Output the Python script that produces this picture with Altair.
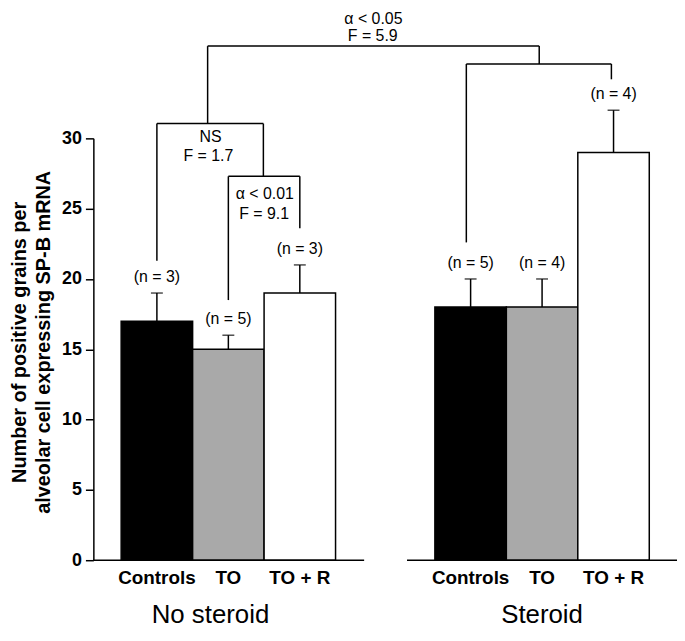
import altair as alt
import pandas as pd

# ---------------- data ----------------
categories = ["Controls", "TO", "TO + R"]
groups = ["No steroid", "Steroid"]
means_no_steroid = [17, 15, 19]
means_steroid = [18, 18, 29]
err_no_steroid = [2, 1, 2]
err_steroid = [2, 2, 3]
n_no_steroid = [3, 5, 3]
n_steroid = [5, 4, 4]
y_ticks = [0, 5, 10, 15, 20, 25, 30]
fills = ["#000000", "#a9a9a9", "#ffffff"]

# brackets: left x, right x, level, left-leg bottom, right-leg bottom
bracket_xl = [1.21, 4.83, 0.5, 1.5]
bracket_xr = [5.85, 6.86, 1.99, 2.5]
bracket_level = [36.56, 35.29, 31.05, 27.3]
bracket_lbot = [31.05, 22.6, 21.3, 18.5]
bracket_rbot = [35.29, 34.2, 27.3, 23.6]

annot_text = ["α < 0.05", "F = 5.9", "NS", "F = 1.7", "α < 0.01", "F = 9.1"]
annot_x = [3.53, 3.52, 1.25, 1.22, 2.01, 2.0]
annot_y = [38.5, 37.25, 30.06, 28.72, 26.04, 24.63]

group_label_x = [1.25, 5.89]

# ---------------- layout helpers ----------------
GROUP_START = [0.0, 4.39]
BAR_W = 1.0
X_DOMAIN = [-0.389, 7.778]
baseline_x0 = [-0.389, 4.0]
baseline_x1 = [3.40, 7.778]
CAT_LABEL_Y = -1.27
GROUP_LABEL_Y = -3.9
N_LABEL_GAP = 1.15

rows = []
for g, (gname, means, errs, ns) in enumerate(
    zip(groups, [means_no_steroid, means_steroid], [err_no_steroid, err_steroid], [n_no_steroid, n_steroid])
):
    for i, c in enumerate(categories):
        x0 = GROUP_START[g] + i * BAR_W
        rows.append(dict(group=gname, cat=c, x0=x0, x1=x0 + BAR_W, xc=x0 + BAR_W / 2,
                         mean=means[i], top=means[i] + errs[i],
                         nlab=f"(n = {ns[i]})", ny=means[i] + errs[i] + N_LABEL_GAP,
                         ly=CAT_LABEL_Y, base=0))
bars = pd.DataFrame(rows)

segs = []
for xl, xr, lv, lb, rb in zip(bracket_xl, bracket_xr, bracket_level, bracket_lbot, bracket_rbot):
    segs.append(dict(x=xl, x2=xr, y=lv, y2=lv))
    segs.append(dict(x=xl, x2=xl, y=lv, y2=lb))
    segs.append(dict(x=xr, x2=xr, y=lv, y2=rb))
for a, b in zip(baseline_x0, baseline_x1):
    segs.append(dict(x=a, x2=b, y=0, y2=0))
segs = pd.DataFrame(segs)

annots = pd.DataFrame(dict(t=annot_text, x=annot_x, y=annot_y))
glabels = pd.DataFrame(dict(t=groups, x=group_label_x, y=[GROUP_LABEL_Y] * 2))

FONT = "Liberation Sans"
xs = alt.Scale(domain=X_DOMAIN, nice=False, zero=False)
ys = alt.Scale(domain=[0, 30], nice=False, zero=True)
Y_TITLE = ["Number of positive grains per", "alveolar cell expressing SP-B mRNA"]

bar_layer = alt.Chart(bars).mark_rect(stroke="black", strokeWidth=1.5).encode(
    x=alt.X("x0:Q", scale=xs, axis=None),
    x2="x1:Q",
    y=alt.Y("mean:Q", scale=ys, title=Y_TITLE, axis=alt.Axis(
        values=y_ticks, title=Y_TITLE,
        grid=False, domainColor="black", domainWidth=1.5, tickColor="black", tickWidth=1.5,
        tickSize=8, labelFontSize=18, labelFontWeight="bold", labelColor="black", labelPadding=4,
        labelFont=FONT, titleFont=FONT, titleFontSize=20, titleFontWeight="bold", titleColor="black",
        titleX=-74, titleY=205, titleAngle=270, titleBaseline="middle", titleAlign="center",
        titleLineHeight=24)),
    y2="base:Q",
    fill=alt.Fill("cat:N", scale=alt.Scale(domain=categories, range=fills), legend=None),
)

err_layer = alt.Chart(bars).mark_rule(color="black", strokeWidth=1.5).encode(
    x=alt.X("xc:Q", scale=xs),
    y=alt.Y("mean:Q", scale=ys, title=Y_TITLE),
    y2="top:Q",
)
cap_layer = alt.Chart(bars).mark_tick(orient="horizontal", size=12, thickness=1.5, color="black").encode(
    x=alt.X("xc:Q", scale=xs),
    y=alt.Y("top:Q", scale=ys, title=Y_TITLE),
)
n_layer = alt.Chart(bars).mark_text(font=FONT, fontSize=16, color="black", baseline="middle").encode(
    x=alt.X("xc:Q", scale=xs),
    y=alt.Y("ny:Q", scale=ys, title=Y_TITLE),
    text="nlab:N",
)
cat_layer = alt.Chart(bars).mark_text(font=FONT, fontSize=19, fontWeight="bold", color="black",
                                      baseline="middle").encode(
    x=alt.X("xc:Q", scale=xs),
    y=alt.Y("ly:Q", scale=ys, title=Y_TITLE),
    text="cat:N",
)
seg_layer = alt.Chart(segs).mark_rule(color="black", strokeWidth=1.5).encode(
    x=alt.X("x:Q", scale=xs),
    x2="x2:Q",
    y=alt.Y("y:Q", scale=ys, title=Y_TITLE),
    y2="y2:Q",
)
annot_layer = alt.Chart(annots).mark_text(font=FONT, fontSize=16, color="black", baseline="middle").encode(
    x=alt.X("x:Q", scale=xs),
    y=alt.Y("y:Q", scale=ys, title=Y_TITLE),
    text="t:N",
)
group_layer = alt.Chart(glabels).mark_text(font=FONT, fontSize=26, color="black", baseline="middle").encode(
    x=alt.X("x:Q", scale=xs),
    y=alt.Y("y:Q", scale=ys, title=Y_TITLE),
    text="t:N",
)

chart = alt.layer(
    bar_layer, err_layer, cap_layer, n_layer, cat_layer, seg_layer, annot_layer, group_layer
).properties(
    width=588, height=425,
    padding={"left": 86, "top": 129, "right": 0, "bottom": 71},
    autosize=alt.AutoSizeParams(type="none"),
    background="white",
).configure_view(stroke=None)

chart.save("out.html", embed_options={"renderer": "svg", "actions": False})
